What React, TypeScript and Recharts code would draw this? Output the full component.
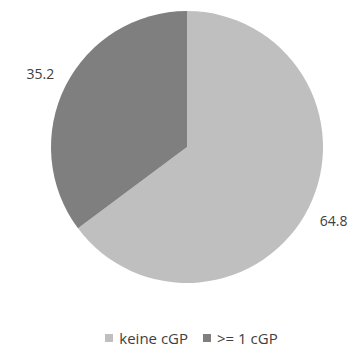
import { PieChart, Pie, Cell, Legend } from 'recharts';

const categories = ['keine cGP', '>= 1 cGP'];
const values = [64.8, 35.2];
const colors = ['#BFBFBF', '#7F7F7F'];

const data = categories.map((name, i) => ({ name, value: values[i] }));

const RADIAN = Math.PI / 180;
const FONT = '"Open Sans", sans-serif';

// labels sit outside the slice end, centred on the mid angle
function renderLabel(props: any) {
  const { cx, cy, midAngle, outerRadius, value } = props;
  const r = outerRadius + 28;
  const x = cx + r * Math.cos(-midAngle * RADIAN);
  const y = cy + r * Math.sin(-midAngle * RADIAN);
  return (
    <text x={x} y={y} fill="#404040" fontSize={14} fontFamily={FONT} textAnchor="middle" dominantBaseline="central">
      {value.toFixed(1)}
    </text>
  );
}

function LegendContent() {
  return (
    <div style={{ display: 'flex', justifyContent: 'center', alignItems: 'center', fontFamily: FONT, fontSize: 15, color: '#404040', lineHeight: '18px' }}>
      {categories.map((c, i) => (
        <div key={c} style={{ display: 'flex', alignItems: 'center', marginLeft: i ? 15 : 0 }}>
          <span style={{ width: 8, height: 8, background: colors[i], display: 'inline-block', marginRight: 6 }} />
          <span>{c}</span>
        </div>
      ))}
    </div>
  );
}

export default function App() {
  return (
    <div style={{ position: 'absolute', left: 0, top: 0, background: '#fff' }}>
      <PieChart width={355} height={351} margin={{ top: 0, right: 0, bottom: 0, left: 0 }}>
        <Pie
          data={data}
          dataKey="value"
          nameKey="name"
          cx={187}
          cy={147}
          outerRadius={136}
          startAngle={90}
          endAngle={-270}
          stroke="none"
          label={renderLabel}
          labelLine={false}
          isAnimationActive={false}
        >
          {data.map((d, i) => (
            <Cell key={d.name} fill={colors[i]} />
          ))}
        </Pie>
        <Legend content={<LegendContent />} wrapperStyle={{ top: 329, left: 14, width: 355 }} />
      </PieChart>
    </div>
  );
}
